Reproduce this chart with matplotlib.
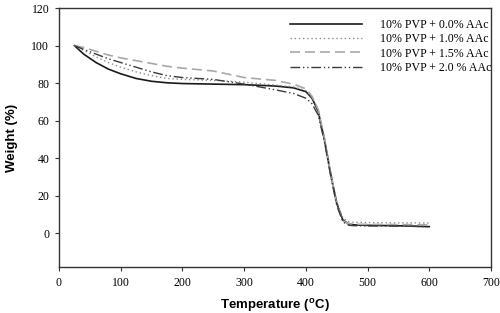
import matplotlib
matplotlib.use("Agg")
import matplotlib.pyplot as plt

temperature = [25, 40, 60, 80, 100, 125, 150, 175, 200, 250, 300, 350, 380, 400, 410, 420, 430, 440, 450, 460, 470, 480, 500, 550, 600]
w_00 = [100, 95.5, 91, 87.5, 85, 82.5, 81, 80.2, 79.8, 79.5, 79.2, 78.5, 77.5, 75.5, 72, 65, 50, 32, 16, 7, 4.8, 4.4, 4.2, 4.0, 3.5]
w_10 = [100, 97.5, 94, 91, 88.5, 86, 84, 82.5, 82, 81.5, 80.5, 79, 78, 76, 72.5, 66, 51, 33, 17, 8, 6, 5.8, 5.7, 5.5, 5.5]
w_15 = [100, 99, 97, 95, 93.5, 92, 90.5, 89, 88, 86.5, 83, 81.5, 79.5, 77, 73, 66, 51, 32, 15, 6.5, 5, 4.8, 4.7, 4.6, 4.5]
w_20 = [100, 98, 95.5, 93, 91, 88.5, 86, 84, 83, 82, 79.5, 76.5, 74.5, 72, 69, 63, 49, 31, 15, 6, 4.2, 4.0, 3.9, 3.8, 3.5]
labels = ["10% PVP + 0.0% AAc", "10% PVP + 1.0% AAc", "10% PVP + 1.5% AAc", "10% PVP + 2.0 % AAc"]
xticks = [0, 100, 200, 300, 400, 500, 600, 700]
yticks = [0, 20, 40, 60, 80, 100, 120]

fig = plt.figure(figsize=(5.0, 3.13), dpi=100)
ax = fig.add_axes([0.118, 0.147, 0.864, 0.827])

ax.plot(temperature, w_00, color="#1a1a1a", lw=1.2, ls="-", label=labels[0])
ax.plot(temperature, w_10, color="#8a8a8a", lw=1.0, ls=(0, (1, 2)), label=labels[1])
ax.plot(temperature, w_15, color="#a8a8a8", lw=1.2, ls=(0, (6, 3)), label=labels[2])
ax.plot(temperature, w_20, color="#3a3a3a", lw=1.0, ls=(0, (7, 2, 1, 2, 1, 2)), label=labels[3])

ax.set_xlim(0, 700)
ax.set_ylim(-18, 120)
ax.set_xticks(xticks)
ax.set_yticks(yticks)
for lbl in ax.get_xticklabels() + ax.get_yticklabels():
    lbl.set_family("Liberation Serif")
    lbl.set_fontsize(8.5)
ax.tick_params(direction="out", length=3, width=0.8, color="#333333", top=False, right=False, pad=4)
for s in ax.spines.values():
    s.set_color("#333333")
    s.set_linewidth(1.0)

ax.set_xlabel(r"Temperature ($^{\mathregular{o}}$C)", fontsize=9.5, fontweight="bold", family="Liberation Sans", labelpad=6)
ax.set_ylabel("Weight (%)", fontsize=9.5, fontweight="bold", family="Liberation Sans", labelpad=10)

leg = ax.legend(loc="upper left", bbox_to_anchor=(0.58, 0.94), bbox_transform=fig.transFigure,
                frameon=False, prop={"family": "Liberation Serif", "size": 8.6},
                handlelength=6.0, handletextpad=1.55, labelspacing=0.2, borderpad=0, borderaxespad=0)

fig.savefig("out.png", dpi=100)
